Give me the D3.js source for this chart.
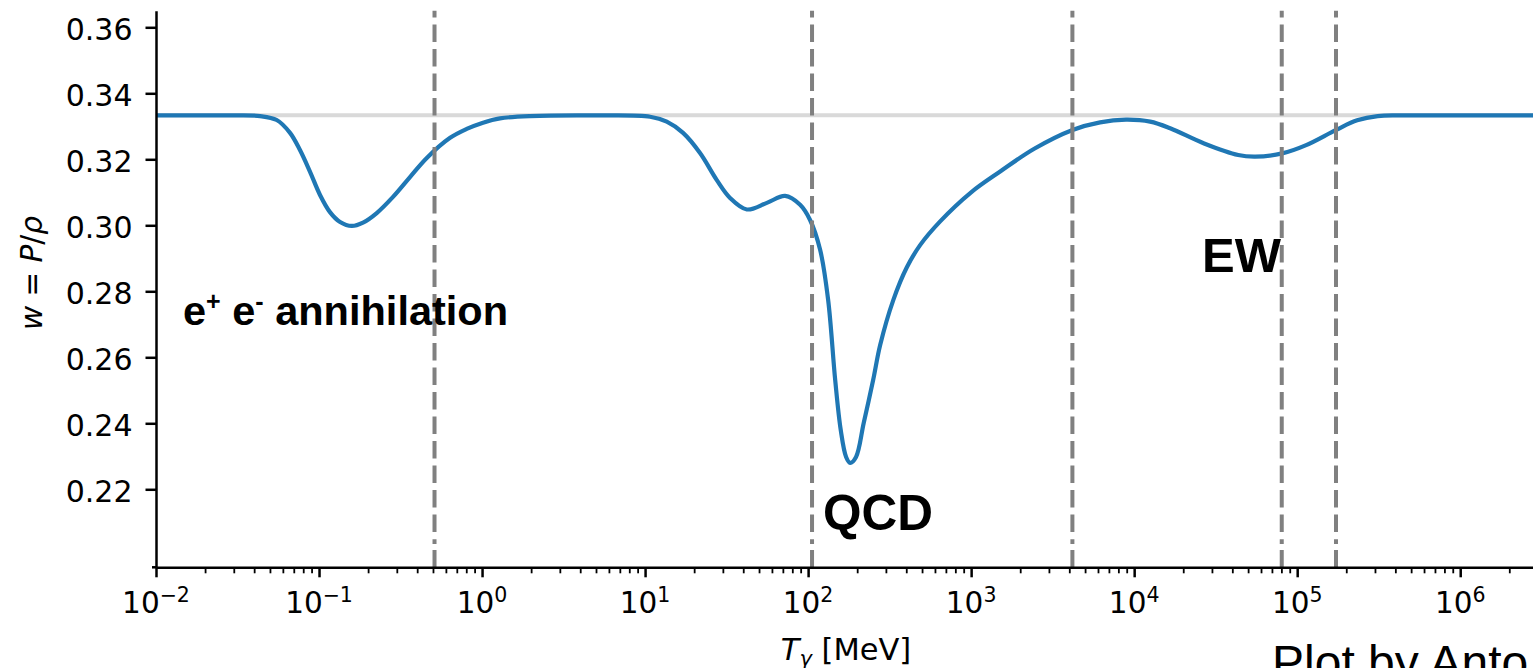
<!DOCTYPE html>
<html>
<head>
<meta charset="utf-8">
<script src="https://cdn.jsdelivr.net/npm/d3@7"></script>
<style>
  html, body { margin: 0; padding: 0; background: #fff; overflow: hidden; }
  svg { display: block; }
</style>
</head>
<body>
<svg id="chart" width="1533" height="668"></svg>
<script>
// ---- data ----
const temperatureMeV = [0.01, 0.0284, 0.0435, 0.055, 0.0664, 0.0764, 0.0881, 0.1014, 0.1167, 0.1346,
  0.1589, 0.1862, 0.2259, 0.2844, 0.3614, 0.4581, 0.6368, 0.8054, 1.014, 1.288,
  1.968, 5.30, 10.74, 13.58, 17.10, 21.73, 27.54, 33.19, 42.07, 55.85,
  72.28, 89.33, 102.8, 118.6, 132.7, 146.6, 158.5, 171.0, 181.1, 196.8,
  219.3, 250.6, 276.7, 333.4, 402.7, 486.4, 645.7, 1000, 1507, 2438,
  4188, 6180, 8913, 12530, 16630, 26850, 43450, 55210, 80910, 113500,
  173400, 233300, 311900, 420000, 800000, 3000000];
const wValues = [0.3333, 0.3333, 0.3331, 0.3319, 0.3280, 0.3228, 0.3162, 0.3092, 0.3040, 0.3010,
  0.2998, 0.3008, 0.3037, 0.3086, 0.3146, 0.3204, 0.3265, 0.3292, 0.3311, 0.3324,
  0.3331, 0.3333, 0.3329, 0.3314, 0.3280, 0.3219, 0.3137, 0.3083, 0.3048, 0.3068,
  0.3089, 0.3062, 0.3016, 0.2925, 0.2774, 0.2531, 0.2380, 0.2298, 0.2280, 0.2298,
  0.2401, 0.2531, 0.2637, 0.2774, 0.2872, 0.2940, 0.3012, 0.3100, 0.3163, 0.3232,
  0.3289, 0.3312, 0.3320, 0.3314, 0.3294, 0.3248, 0.3213, 0.3208, 0.3218, 0.3243,
  0.3289, 0.3318, 0.3331, 0.3333, 0.3333, 0.3333];
const radiationW = 1 / 3;
const thresholdsMeV = [0.511, 105.7, 4180, 80400, 173000];
const xMajorTicks = [1e-2, 1e-1, 1e0, 1e1, 1e2, 1e3, 1e4, 1e5, 1e6];
const xTickExponents = ["\u22122", "\u22121", "0", "1", "2", "3", "4", "5", "6"];
const yTicks = [0.22, 0.24, 0.26, 0.28, 0.30, 0.32, 0.34, 0.36];
const xDomain = [1e-2, 3e6];
const yDomain = [0.19636, 0.36503];
const annotations = [
  { key: "ee", text: "annihilation" },
  { key: "qcd", text: "QCD" },
  { key: "ew", text: "EW" }
];

// ---- layout ----
const svg = d3.select("#chart");
const plotL = 156, plotR = 1538, plotT = 10.7, plotB = 567.3;
const x = d3.scaleLog().domain(xDomain).range([plotL, plotR]);
const y = d3.scaleLinear().domain(yDomain).range([plotB, plotT]);
const tickFont = "'DejaVu Sans', sans-serif";
const annFont = "'Liberation Sans', Arial, Helvetica, sans-serif";

// horizontal reference line w = 1/3
svg.append("line")
  .attr("x1", plotL).attr("x2", 1533)
  .attr("y1", y(radiationW)).attr("y2", y(radiationW))
  .attr("stroke", "#d9d9d9").attr("stroke-width", 4);

// curve
const pts = temperatureMeV.map((t, i) => [t, wValues[i]]);
svg.append("path")
  .datum(pts)
  .attr("fill", "none")
  .attr("stroke", "#1f77b4")
  .attr("stroke-width", 4.2)
  .attr("stroke-linejoin", "round")
  .attr("d", d3.line().x(d => x(d[0])).y(d => y(d[1])).curve(d3.curveCatmullRom.alpha(0.5)));

// vertical dashed threshold lines (drawn bottom to top)
let dash = [17.3, 6, 4.7, 7.3];
for (let i = 0; i < 24; i++) dash.push(17.5, 7);
svg.selectAll("line.vl").data(thresholdsMeV).enter().append("line")
  .attr("class", "vl")
  .attr("x1", d => x(d)).attr("x2", d => x(d))
  .attr("y1", plotB).attr("y2", plotT)
  .attr("stroke", "#808080").attr("stroke-width", 4)
  .attr("stroke-dasharray", dash.join(","));

// ---- axes ----
const xAxis = svg.append("g").attr("transform", `translate(0,${plotB})`)
  .call(d3.axisBottom(x).tickValues(xMajorTicks).tickSize(10).tickSizeOuter(0).tickFormat(""));
const minor = [];
for (let e = -2; e <= 6; e++) for (let m = 2; m <= 9; m++) {
  const v = m * Math.pow(10, e);
  if (v <= xDomain[1]) minor.push(v);
}
const xMinor = svg.append("g").attr("transform", `translate(0,${plotB})`)
  .call(d3.axisBottom(x).tickValues(minor).tickSize(6).tickSizeOuter(0).tickFormat(""));
xMinor.select(".domain").remove();
xMinor.selectAll(".tick line").attr("stroke-width", 1.8).attr("stroke", "#000");
xAxis.select(".domain").attr("stroke-width", 2.5).attr("stroke", "#000");
xAxis.selectAll(".tick line").attr("stroke-width", 2.5).attr("stroke", "#000");
// small left overhang of the bottom spine
svg.append("line").attr("x1", plotL - 4).attr("x2", plotL)
  .attr("y1", plotB).attr("y2", plotB).attr("stroke", "#000").attr("stroke-width", 2.5);

// x tick labels with superscripts
const xl = svg.append("g");
xMajorTicks.forEach((v, i) => {
  const t = xl.append("text")
    .attr("x", x(v)).attr("y", 613)
    .attr("text-anchor", "middle")
    .attr("font-family", tickFont).attr("font-size", 29.5).attr("fill", "#000");
  t.append("tspan").text("10");
  t.append("tspan").attr("dy", -11).attr("font-size", 20.5).text(xTickExponents[i]);
});

const yAxis = svg.append("g").attr("transform", `translate(${plotL},0)`)
  .call(d3.axisLeft(y).tickValues(yTicks).tickSize(10.5).tickPadding(13).tickSizeOuter(0)
    .tickFormat(d3.format(".2f")));
yAxis.select(".domain").attr("stroke-width", 2.5).attr("stroke", "#000");
yAxis.selectAll(".tick line").attr("stroke-width", 2.5).attr("stroke", "#000");
yAxis.selectAll(".tick text")
  .attr("font-family", tickFont).attr("font-size", 30).attr("fill", "#000")
  .attr("dy", "0.41em");

// axis labels
const xlab = svg.append("text")
  .attr("x", 846).attr("y", 660).attr("text-anchor", "middle")
  .attr("font-family", tickFont).attr("font-size", 30.5).attr("fill", "#000");
xlab.append("tspan").attr("font-style", "italic").text("T");
xlab.append("tspan").attr("font-style", "italic").attr("font-size", 21).attr("dy", 6).text("\u03b3");
xlab.append("tspan").attr("dy", -6).text(" [MeV]");

const ylab = svg.append("text")
  .attr("transform", "translate(42,273) rotate(-90)")
  .attr("text-anchor", "middle")
  .attr("font-family", tickFont).attr("font-size", 29.5).attr("fill", "#000");
ylab.append("tspan").attr("font-style", "italic").text("w");
ylab.append("tspan").text(" = ");
ylab.append("tspan").attr("font-style", "italic").text("P");
ylab.append("tspan").text("/");
ylab.append("tspan").attr("font-style", "italic").text("\u03c1");

// annotations
const ee = svg.append("text")
  .attr("x", 183).attr("y", 325)
  .attr("font-family", annFont).attr("font-weight", "bold").attr("font-size", 41.5).attr("fill", "#000");
ee.append("tspan").text("e");
ee.append("tspan").attr("font-size", 25).attr("dy", -15).text("+");
ee.append("tspan").attr("dy", 15).text(" e");
ee.append("tspan").attr("font-size", 25).attr("dy", -15).text("-");
ee.append("tspan").attr("dy", 15).text(" " + annotations[0].text);

svg.append("text").attr("x", 823).attr("y", 530)
  .attr("font-family", annFont).attr("font-weight", "bold").attr("font-size", 49.5).attr("fill", "#000")
  .text(annotations[1].text);
svg.append("text").attr("x", 1202).attr("y", 272)
  .attr("font-family", annFont).attr("font-weight", "bold").attr("font-size", 49).attr("fill", "#000")
  .text(annotations[2].text);

svg.append("text").attr("x", 1272).attr("y", 679)
  .attr("font-family", annFont).attr("font-size", 48).attr("fill", "#000")
  .text("Plot by Anto");
</script>
</body>
</html>
